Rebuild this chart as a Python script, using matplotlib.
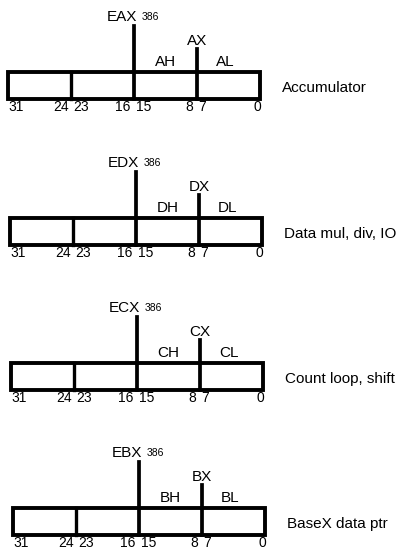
import matplotlib.pyplot as plt
from matplotlib.patches import Rectangle

# register data
full_names = ["EAX", "EDX", "ECX", "EBX"]
word_names = ["AX", "DX", "CX", "BX"]
high_names = ["AH", "DH", "CH", "BH"]
low_names = ["AL", "DL", "CL", "BL"]
descriptions = ["Accumulator", "Data mul, div, IO", "Count loop, shift", "BaseX data ptr"]
bit_labels = ["31", "24", "23", "16", "15", "8", "7", "0"]
bit_pos = [31.0, 25.3, 22.7, 17.4, 14.8, 9.0, 7.3, 0.3]  # label centres, in bits

# layout in pixels (y down)
W, H = 403, 560
x_off = [8, 10, 11, 13]
y_off = [72, 218, 363, 508]
px_per_bit = 252 / 32
box_h = 27
lw = 2.4

fig = plt.figure(figsize=(W / 100, H / 100), dpi=100)
ax = fig.add_axes([0, 0, 1, 1])
ax.set_xlim(0, W)
ax.set_ylim(H, 0)
ax.axis("off")

font = "Liberation Sans"
fs = 11

def bx(x0, bit):
    # bit 32 is left edge, bit 0 is right edge
    return x0 + (32 - bit) * px_per_bit

for i in range(4):
    x0 = x_off[i]
    top = y_off[i]
    ax.add_patch(Rectangle((x0, top), 32 * px_per_bit, box_h, fill=False,
                           lw=lw + 0.4, ec="black"))
    # divider at 24
    ax.plot([bx(x0, 24)] * 2, [top, top + box_h], color="black", lw=lw)
    # 16 divider, extends up for the 32-bit register
    ax.plot([bx(x0, 16)] * 2, [top - 46, top + box_h], color="black", lw=lw + 0.3)
    # 8 divider, extends up for the 16-bit register
    ax.plot([bx(x0, 8)] * 2, [top - 23, top + box_h], color="black", lw=lw + 0.3)

    ax.text(bx(x0, 16) + 3, top - 55, full_names[i], ha="right", va="center",
            fontsize=fs, family=font)
    ax.text(bx(x0, 16) + 8, top - 55, "386", ha="left", va="center",
            fontsize=7.5, family=font)
    ax.text(bx(x0, 8), top - 31, word_names[i], ha="center", va="center",
            fontsize=fs, family=font)
    ax.text(bx(x0, 12), top - 10, high_names[i], ha="center", va="center",
            fontsize=fs, family=font)
    ax.text(bx(x0, 4) - 3, top - 10, low_names[i], ha="center", va="center",
            fontsize=fs, family=font)
    ax.text(x0 + 274, top + 16, descriptions[i], ha="left", va="center",
            fontsize=fs, family=font)
    for lab, b in zip(bit_labels, bit_pos):
        ax.text(bx(x0, b), top + 35, lab, ha="center", va="center",
                fontsize=10, family=font)

fig.savefig("out.png", dpi=100)
